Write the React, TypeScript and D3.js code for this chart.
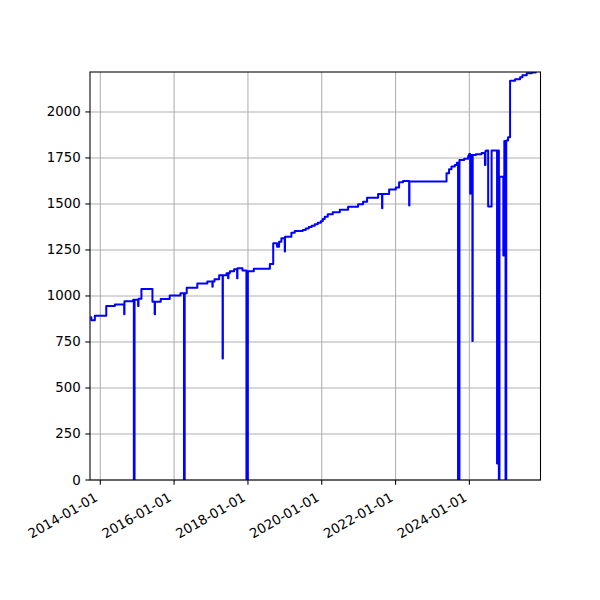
import React from 'react';
import * as d3 from 'd3';

const dates: string[] = [
  '2013-09-24', '2013-10-04', '2013-11-08', '2014-03-01', '2014-05-25', '2014-08-25', '2014-08-28',
  '2014-11-22', '2014-11-29', '2014-12-06', '2015-01-10', '2015-01-14', '2015-02-12', '2015-06-01',
  '2015-06-23', '2015-06-26', '2015-08-22', '2015-11-19', '2016-03-04', '2016-04-08', '2016-04-15',
  '2016-05-05', '2016-08-18', '2016-11-25', '2017-01-14', '2017-01-17', '2017-02-04', '2017-03-22',
  '2017-04-25', '2017-04-28', '2017-06-03', '2017-06-19', '2017-06-22', '2017-07-06', '2017-08-17',
  '2017-09-16', '2017-09-19', '2017-11-08', '2017-12-17', '2017-12-31', '2018-02-28', '2018-08-06',
  '2018-09-08', '2018-10-16', '2018-11-05', '2018-11-28', '2018-12-31', '2019-01-03', '2019-03-07',
  '2019-04-09', '2019-06-27', '2019-07-27', '2019-08-26', '2019-09-24', '2019-10-24', '2019-11-23',
  '2019-12-23', '2020-01-11', '2020-01-31', '2020-03-01', '2020-04-19', '2020-06-28', '2020-09-18',
  '2020-12-26', '2021-02-13', '2021-03-25', '2021-07-12', '2021-08-20', '2021-08-23', '2021-10-29',
  '2022-01-03', '2022-02-05', '2022-03-16', '2022-05-15', '2022-05-18', '2023-05-20', '2023-06-14',
  '2023-07-08', '2023-08-10', '2023-08-30', '2023-09-11', '2023-09-25', '2023-11-11', '2023-12-20',
  '2023-12-30', '2024-01-09', '2024-01-12', '2024-01-31', '2024-02-03', '2024-03-06', '2024-05-01',
  '2024-06-03', '2024-06-08', '2024-06-17', '2024-07-05', '2024-08-08', '2024-10-01', '2024-10-11',
  '2024-10-19', '2024-10-25', '2024-12-02', '2024-12-12', '2024-12-24', '2024-12-31', '2025-01-18',
  '2025-02-07', '2025-03-28', '2025-05-17', '2025-06-09', '2025-07-22', '2025-09-10', '2025-10-19',
];

const values: number[] = [
  885, 868, 893, 945, 953, 900, 971,
  980, 0, 980, 945, 985, 1038, 969,
  900, 969, 984, 1002, 1015, 0, 1015,
  1045, 1068, 1078, 1050, 1078, 1091, 1112,
  660, 1112, 1123, 1096, 1123, 1134, 1145,
  1096, 1150, 1138, 0, 1134, 1148, 1174,
  1286, 1268, 1295, 1313, 1241, 1322, 1344,
  1353, 1359, 1366, 1375, 1382, 1390, 1398,
  1406, 1418, 1431, 1444, 1455, 1469, 1485,
  1498, 1512, 1534, 1554, 1477, 1554, 1578,
  1589, 1618, 1625, 1491, 1622, 1667, 1689,
  1703, 1712, 1724, 0, 1739, 1745, 1761,
  1772, 1555, 1766, 755, 1766, 1770, 1777,
  1712, 1788, 1790, 1486, 1790, 90, 1790,
  0, 1648, 1220, 1842, 0, 1845, 1862,
  2170, 2177, 2188, 2200, 2210, 2214, 2217,
];

const yTicks: number[] = [0, 250, 500, 750, 1000, 1250, 1500, 1750, 2000];
const xTickLabels: string[] = ['2014-01-01', '2016-01-01', '2018-01-01', '2020-01-01', '2022-01-01', '2024-01-01'];
const xDomain: string[] = ['2013-09-21', '2025-12-05'];

export default function App() {
  const W = 600, H = 600;
  const L = 90, R = 540.5, T = 72, B = 480;
  const parse = d3.utcParse('%Y-%m-%d');
  const data = dates.map((d, i) => ({ date: parse(d) as Date, value: values[i] }));
  const x = d3.scaleUtc().domain(xDomain.map(d => parse(d) as Date)).range([L, R]);
  const y = d3.scaleLinear().domain([0, d3.max(values) as number]).range([B, T]);
  const line = d3.line<{ date: Date; value: number }>()
    .x(d => x(d.date))
    .y(d => y(d.value))
    .curve(d3.curveStepAfter);
  const font = "'DejaVu Sans', sans-serif";
  const fs = 13.33;
  const tickLen = 4.67;
  const xt = xTickLabels.map(s => ({ s, px: x(parse(s) as Date) }));

  return (
    <svg width={W} height={H} style={{ position: 'absolute', left: 0, top: 0, background: '#fff' }}>
      <defs>
        <clipPath id="plotclip">
          <rect x={L} y={T} width={R - L} height={B - T} />
        </clipPath>
      </defs>
      <rect x={0} y={0} width={W} height={H} fill="#fff" />
      {/* grid */}
      <g stroke="#b0b0b0" strokeWidth={1.07}>
        {xt.map(t => (
          <line key={'gx' + t.s} x1={t.px} x2={t.px} y1={T} y2={B} />
        ))}
        {yTicks.map(v => (
          <line key={'gy' + v} x1={L} x2={R} y1={y(v)} y2={y(v)} />
        ))}
      </g>
      {/* data */}
      <path d={line(data) || ''} fill="none" stroke="#0000ff" strokeWidth={2} strokeLinejoin="round" strokeLinecap="butt" clipPath="url(#plotclip)" />
      {/* spines */}
      <rect x={L} y={T} width={R - L} height={B - T} fill="none" stroke="#000" strokeWidth={1.07} />
      {/* y ticks */}
      <g fontFamily={font} fontSize={fs} fill="#000">
        {yTicks.map(v => (
          <g key={'yt' + v}>
            <line x1={L - tickLen} x2={L} y1={y(v)} y2={y(v)} stroke="#000" strokeWidth={1.07} />
            <text x={L - tickLen - 4.67} y={y(v)} textAnchor="end" dominantBaseline="central">{v}</text>
          </g>
        ))}
      </g>
      {/* x ticks */}
      <g fontFamily={font} fontSize={fs} fill="#000">
        {xt.map(t => (
          <g key={'xt' + t.s}>
            <line x1={t.px} x2={t.px} y1={B} y2={B + tickLen} stroke="#000" strokeWidth={1.07} />
            <text transform={`translate(${t.px - 1.6},${B + 2 * tickLen + 10.7}) rotate(-30)`} textAnchor="end">{t.s}</text>
          </g>
        ))}
      </g>
    </svg>
  );
}
